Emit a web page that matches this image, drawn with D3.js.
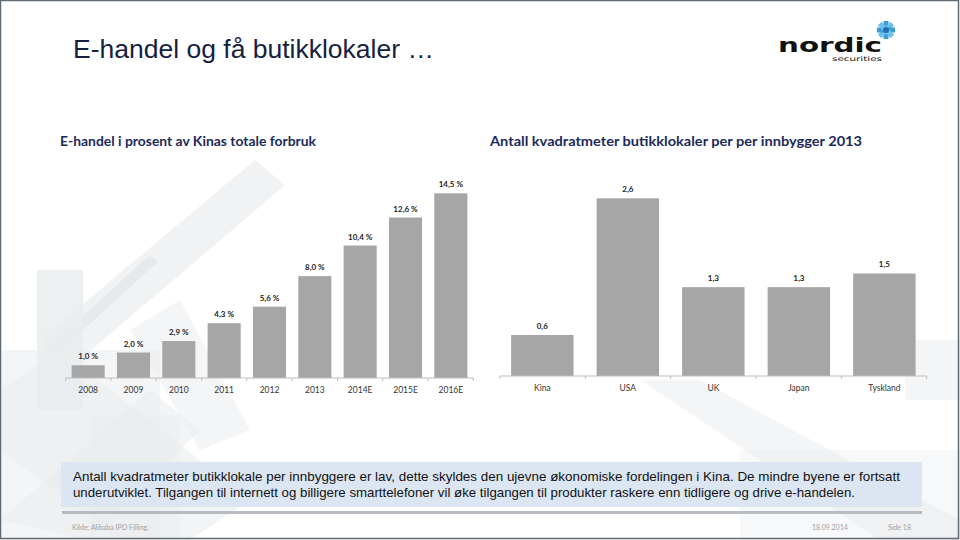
<!DOCTYPE html>
<html><head><meta charset="utf-8">
<script src="https://cdn.jsdelivr.net/npm/d3@7/dist/d3.min.js"></script>
<style>
html,body{margin:0;padding:0;background:#fff;}
svg{display:block;}
</style></head>
<body><svg id="c" width="960" height="540"></svg>
<script>
// ---- data ----
const years = ["2008","2009","2010","2011","2012","2013","2014E","2015E","2016E"];
const ecomShare = [1.0, 2.0, 2.9, 4.3, 5.6, 8.0, 10.4, 12.6, 14.5];
const countries = ["Kina","USA","UK","Japan","Tyskland"];
const sqmPerCapita = [0.6, 2.6, 1.3, 1.3, 1.5];

const fmt1 = v => d3.format(".1f")(v).replace(".", ",");

const svg = d3.select("#c");

// ---- faint background decoration ----
const deco = svg.append("g").attr("fill", "#e9ecee");
deco.append("polygon").attr("points","40,340 255,160 285,185 70,368").attr("opacity",0.7);
deco.append("polygon").attr("points","45,350 150,255 158,262 53,357").attr("fill","#dfe3e6").attr("opacity",0.6);
deco.append("rect").attr("x",37).attr("y",270).attr("width",46).attr("height",140).attr("opacity",0.8);
deco.append("rect").attr("x",0).attr("y",350).attr("width",160).attr("height",190).attr("opacity",0.5);
deco.append("polygon").attr("points","0,390 60,350 250,500 190,540 120,540 0,450").attr("opacity",0.6);
deco.append("polygon").attr("points","0,520 150,390 200,430 90,540").attr("opacity",0.6);
deco.append("rect").attr("x",90).attr("y",415).attr("width",90).attr("height",125).attr("opacity",0.5);
deco.append("polygon").attr("points","130,330 180,300 250,430 200,450").attr("opacity",0.5);
deco.append("polygon").attr("points","640,380 700,380 960,520 960,540 880,540").attr("opacity",0.55);
deco.append("rect").attr("x",905).attr("y",340).attr("width",55).attr("height",60).attr("opacity",0.5);
deco.append("rect").attr("x",740).attr("y",450).attr("width",220).attr("height",90).attr("opacity",0.35);

// ---- slide border ----
svg.append("rect").attr("x",0.5).attr("y",0.5).attr("width",958).attr("height",538)
  .attr("fill","none").attr("stroke","#5f6b75").attr("stroke-width",1.5);

// ---- main title ----
svg.append("text").attr("x",73).attr("y",58)
  .attr("font-family","Liberation Sans, Arial, sans-serif").attr("font-size",26.5)
  .attr("fill","#15223f").text("E-handel og få butikklokaler …");

// ---- logo ----
const logo = svg.append("g");
logo.append("text").attr("x",778).attr("y",52)
  .attr("font-family","DejaVu Sans, sans-serif").attr("font-weight","bold").attr("font-size",19)
  .attr("textLength",104).attr("lengthAdjust","spacingAndGlyphs")
  .attr("fill","#111").text("nordic");
logo.append("text").attr("x",832).attr("y",61)
  .attr("font-family","DejaVu Sans, sans-serif").attr("font-size",6.5)
  .attr("textLength",50).attr("lengthAdjust","spacingAndGlyphs")
  .attr("fill","#111").text("securities");
const star = logo.append("g").attr("transform","translate(886,30)");
[0,45,90,135].forEach(a=>{
  star.append("rect").attr("x",-2.5).attr("y",-9).attr("width",5).attr("height",18)
    .attr("fill", a%90===0 ? "#3a9bd6" : "#6cc0ee").attr("transform",`rotate(${a})`);
});
star.append("circle").attr("r",3).attr("fill","#1f6fb0");

// ---- subtitles ----
const subFont = "Lato, 'Open Sans', sans-serif";
svg.append("text").attr("x",60).attr("y",146).attr("font-family",subFont)
  .attr("font-weight","bold").attr("font-size",14).attr("fill","#1c2a5a")
  .attr("textLength",256).attr("lengthAdjust","spacingAndGlyphs")
  .text("E-handel i prosent av Kinas totale forbruk");
svg.append("text").attr("x",490).attr("y",146).attr("font-family",subFont)
  .attr("font-weight","bold").attr("font-size",14).attr("fill","#1c2a5a")
  .attr("textLength",372).attr("lengthAdjust","spacingAndGlyphs")
  .text("Antall kvadratmeter butikklokaler per per innbygger 2013");

// ---- chart helper ----
function barChart(cats, vals, x0, x1, yBase, yTopVal, yTopPx, labelFmt){
  const x = d3.scaleBand().domain(cats).range([x0, x1]).paddingInner(0.27).paddingOuter(0.13);
  const y = d3.scaleLinear().domain([0, yTopVal]).range([yBase, yTopPx]);
  const g = svg.append("g");
  g.selectAll("rect.bar").data(cats).join("rect").attr("class","bar")
    .attr("x", d => x(d)).attr("width", x.bandwidth())
    .attr("y", (d,i) => y(vals[i])).attr("height", (d,i) => yBase - y(vals[i]))
    .attr("fill","#a6a6a6");
  const ax = g.append("g").attr("transform",`translate(0,${yBase})`)
    .call(d3.axisBottom(x).tickSize(0).tickPadding(9));
  ax.select(".domain").attr("stroke","#bdbdbd").attr("d",`M${x0},0H${x1}`);
  ax.selectAll("text").attr("font-family",subFont).attr("font-size",8.5).attr("fill","#333");
  const edges = d3.range(cats.length+1).map(i => x0 + (x1-x0)*i/cats.length);
  g.selectAll("line.sep").data(edges).join("line").attr("class","sep")
    .attr("x1",d=>d).attr("x2",d=>d).attr("y1",yBase).attr("y2",yBase+3)
    .attr("stroke","#bdbdbd");
  g.selectAll("text.val").data(cats).join("text").attr("class","val")
    .attr("x", d => x(d) + x.bandwidth()/2).attr("y",(d,i)=> y(vals[i]) - 6)
    .attr("text-anchor","middle").attr("font-family",subFont).attr("font-weight","bold")
    .attr("font-size",8).attr("fill","#222")
    .text((d,i)=>labelFmt(vals[i]));
}
barChart(years, ecomShare, 65.7, 473.3, 378, 14.5, 193.3, v => fmt1(v) + " %");
barChart(countries, sqmPerCapita, 500, 926.7, 376, 2.6, 198.3, v => fmt1(v));

// ---- text box ----
svg.append("rect").attr("x",62).attr("y",511).attr("width",860).attr("height",3).attr("fill","#a9adb1").attr("opacity",0.8);
svg.append("rect").attr("x",61).attr("y",462).attr("width",861).attr("height",45).attr("fill","#dce6f2");
const tb = svg.append("text").attr("font-family","Liberation Sans, Arial, sans-serif").attr("font-size",13.5).attr("fill","#111");
tb.append("tspan").attr("x",73).attr("y",481).attr("textLength",827).attr("lengthAdjust","spacingAndGlyphs")
  .text("Antall kvadratmeter butikklokale per innbyggere er lav, dette skyldes den ujevne økonomiske fordelingen i Kina. De mindre byene er fortsatt");
tb.append("tspan").attr("x",73).attr("y",497).attr("textLength",782).attr("lengthAdjust","spacingAndGlyphs")
  .text("underutviklet. Tilgangen til internett og billigere smarttelefoner vil øke tilgangen til produkter raskere enn tidligere og drive e-handelen.");

// ---- footer ----
const ff = svg.append("g").attr("font-family",subFont).attr("font-size",7).attr("fill","#a0a0a0");
ff.append("text").attr("x",72).attr("y",530).text("Kilde: Alibaba IPO Filling.");
ff.append("text").attr("x",812).attr("y",530).text("18.09.2014");
ff.append("text").attr("x",888).attr("y",530).text("Side 18");
</script></body></html>
